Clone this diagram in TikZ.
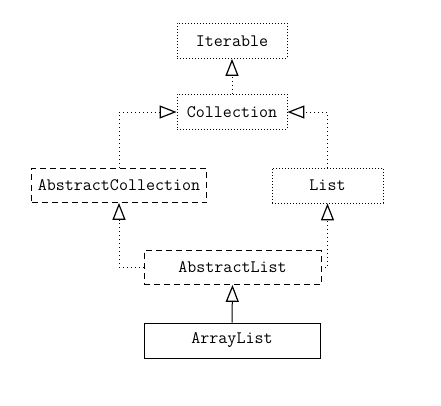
\documentclass[tikz,border=0pt]{standalone}
\usetikzlibrary{arrows.meta}
\begin{document}
\begin{tikzpicture}[x=1pt,y=-1pt,
  box/.style={draw, line width=0.8pt, minimum height=35pt, inner sep=0pt, font=\ttfamily\fontsize{17.5}{20}\selectfont},
  dotbox/.style={box, dash pattern=on 1pt off 2pt},
  dashbox/.style={box, dash pattern=on 6pt off 4pt},
  solidbox/.style={box},
  rel/.style={line width=0.8pt, dash pattern=on 1pt off 3pt, -{Triangle[open, length=17pt, width=13pt, line width=1.2pt]}},
  inh/.style={line width=1pt, -{Triangle[open, length=17pt, width=13pt, line width=1.2pt]}}
]
\useasboundingbox (0,0) rectangle (441,406);
\node[dotbox, minimum width=110pt] (it) at (232,41) {Iterable};
\node[dotbox, minimum width=110pt] (coll) at (232,112) {Collection};
\node[dashbox, minimum width=175pt, minimum height=34pt] (ac) at (119,185.5) {AbstractCollection};
\node[dotbox, minimum width=111pt] (list) at (327.5,185.5) {List};
\node[dashbox, minimum width=177pt, minimum height=34pt] (al) at (232.5,267.5) {AbstractList};
\node[solidbox, minimum width=176pt] (arr) at (232,340.5) {ArrayList};
\draw[rel] (coll.north) -- (it.south);
\draw[rel] (ac.north) |- (coll.west);
\draw[rel] (list.north) |- (coll.east);
\draw[rel] (al.west) -| (ac.south);
\draw[rel] (al.east) -| (list.south);
\draw[inh] (arr.north) -- (al.south);
\end{tikzpicture}
\end{document}
